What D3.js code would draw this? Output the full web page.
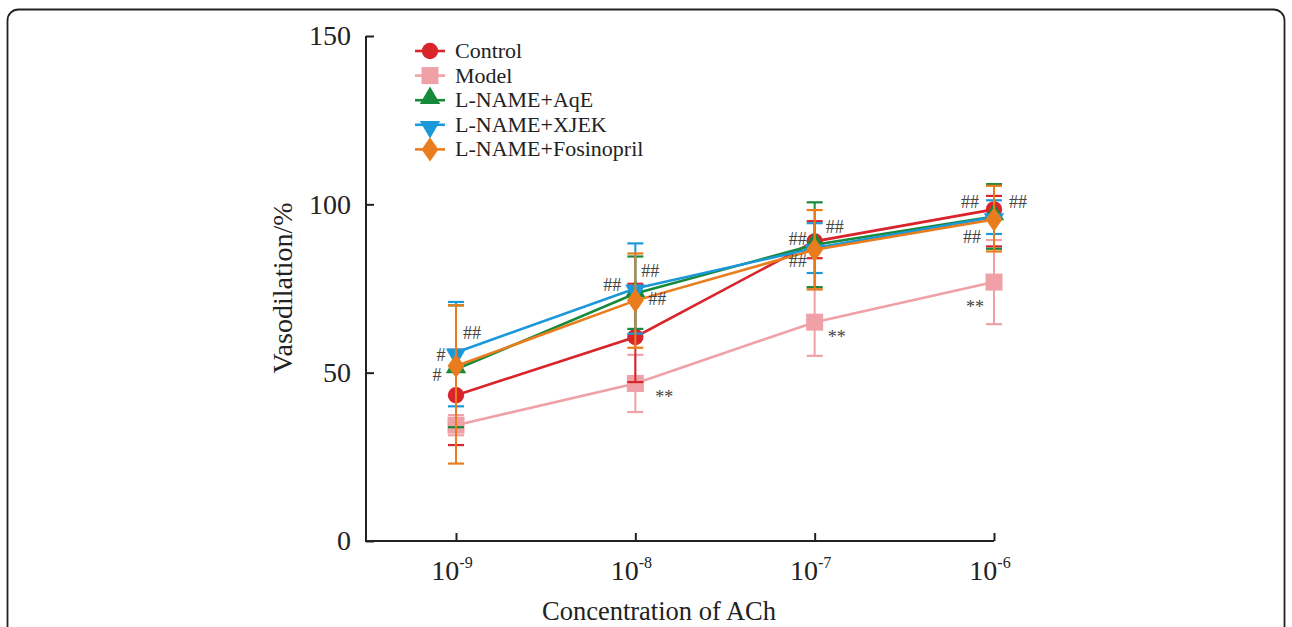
<!DOCTYPE html>
<html>
<head>
<meta charset="utf-8">
<script src="https://cdn.jsdelivr.net/npm/d3@7"></script>
<style>
  body { margin: 0; background: #fff; }
</style>
</head>
<body>
<div id="chart"></div>
<script>
// concentrations of ACh (exponent of 10)
const concentrations = [-9, -8, -7, -6];
const yTicks = [0, 50, 100, 150];

const legendOrder = ['Control', 'Model', 'L-NAME+AqE', 'L-NAME+XJEK', 'L-NAME+Fosinopril'];

// mean values (%)
const controlMean = [43.3, 60.6, 89.0, 98.5];
const modelMean = [34.4, 46.8, 65.0, 76.9];
const aqeMean = [51.0, 73.5, 88.0, 96.4];
const xjekMean = [56.0, 75.0, 87.0, 96.2];
const fosinoprilMean = [52.0, 71.4, 86.5, 95.5];

// error bars: upper / lower extent
const controlErrUp = [13.5, 15.8, 6.0, 4.0];
const controlErrDown = [14.8, 13.4, 5.0, 11.0];
const modelErrUp = [3.0, 8.5, 10.0, 12.5];
const modelErrDown = [3.0, 8.5, 10.0, 12.5];
const aqeErrUp = [19.0, 11.0, 12.6, 9.6];
const aqeErrDown = [17.2, 10.5, 12.6, 9.6];
const xjekErrUp = [15.0, 13.4, 7.4, 5.0];
const xjekErrDown = [16.0, 13.4, 7.4, 5.0];
const fosinoprilErrUp = [18.0, 14.0, 11.8, 10.0];
const fosinoprilErrDown = [29.0, 14.0, 11.8, 9.5];

// significance marks: concentration, value level, text, side offset
const markConc = [-9, -9, -9, -8, -8, -8, -8, -7, -7, -7, -7, -6, -6, -6, -6];
const markValue = [61.7, 55.1, 49.2, 80.3, 75.9, 72.0, 42.7, 93.4, 89.8, 83.3, 60.5, 100.8, 100.8, 90.4, 69.4];
const markText = ['##', '#', '#', '##', '##', '##', '**', '##', '##', '##', '**', '##', '##', '##', '**'];
const markDx = [16, -15, -19, 15, -23, 22, 29, 20, -17, -17, 22, -24, 24, -22, -19];

const series = [
  { name: 'Model', mean: modelMean, up: modelErrUp, down: modelErrDown, color: '#f0a1a8', shape: 'square' },
  { name: 'Control', mean: controlMean, up: controlErrUp, down: controlErrDown, color: '#d8242a', shape: 'circle' },
  { name: 'L-NAME+AqE', mean: aqeMean, up: aqeErrUp, down: aqeErrDown, color: '#17893b', shape: 'triangle' },
  { name: 'L-NAME+XJEK', mean: xjekMean, up: xjekErrUp, down: xjekErrDown, color: '#1b98d8', shape: 'triangleDown' },
  { name: 'L-NAME+Fosinopril', mean: fosinoprilMean, up: fosinoprilErrUp, down: fosinoprilErrDown, color: '#e97d1e', shape: 'diamond' }
];

const serif = '"Liberation Serif", "Times New Roman", serif';
const width = 1292, height = 627;
const svg = d3.select('#chart').append('svg')
  .attr('width', width)
  .attr('height', height)
  .attr('font-family', serif)
  .style('display', 'block');

// rounded frame, bottom edge falls outside the picture
svg.append('rect')
  .attr('x', 7.5).attr('y', 9.5)
  .attr('width', 1277).attr('height', 660)
  .attr('rx', 11)
  .attr('fill', 'none')
  .attr('stroke', '#222')
  .attr('stroke-width', 1.8);

const axisLeftX = 366;
const x = d3.scalePoint().domain(concentrations).range([456, 994]);
const y = d3.scaleLinear().domain([0, 150]).range([541, 36]);

const symbolFor = {
  circle: d3.symbol().type(d3.symbolCircle).size(210),
  square: d3.symbol().type(d3.symbolSquare).size(290),
  triangle: d3.symbol().type(d3.symbolTriangle).size(180),
  triangleDown: d3.symbol().type(d3.symbolTriangle).size(180),
  diamond: d3.symbol().type(d3.symbolDiamond).size(170)
};

function markerTransform(shape, px, py) {
  let t = `translate(${px},${py})`;
  if (shape === 'triangle') t += ' translate(0,-2)';
  if (shape === 'triangleDown') t += ' rotate(180) translate(0,-2)';
  if (shape === 'diamond') t += ' scale(1.2,1)';
  return t;
}

// axes
const yAxis = d3.axisLeft(y).tickValues(yTicks).tickSizeInner(-8).tickSizeOuter(0).tickPadding(15);
const gy = svg.append('g').attr('transform', `translate(${axisLeftX},0)`).call(yAxis);
gy.attr('font-family', serif);
gy.select('.domain').remove();
gy.selectAll('.tick line').attr('stroke', '#222').attr('stroke-width', 2);
gy.selectAll('.tick text')
  .attr('font-size', 28)
  .attr('fill', '#222');
svg.append('line')
  .attr('x1', axisLeftX).attr('x2', axisLeftX)
  .attr('y1', y(150)).attr('y2', y(0))
  .attr('stroke', '#222').attr('stroke-width', 2);

const xAxis = d3.axisBottom(x).tickSizeInner(-8).tickSizeOuter(0).tickFormat(() => '');
const gx = svg.append('g').attr('transform', `translate(0,${y(0)})`).call(xAxis);
gx.select('.domain').remove();
gx.selectAll('.tick line').attr('stroke', '#222').attr('stroke-width', 2);
svg.append('line')
  .attr('x1', axisLeftX - 1).attr('x2', x(-6))
  .attr('y1', y(0)).attr('y2', y(0))
  .attr('stroke', '#222').attr('stroke-width', 2);

const xLabels = svg.append('g').selectAll('text')
  .data(concentrations)
  .join('text')
  .attr('x', d => x(d) - 4)
  .attr('y', 580)
  .attr('text-anchor', 'middle')
  .attr('font-size', 28)
  .attr('fill', '#222');
xLabels.append('tspan').text('10');
xLabels.append('tspan').attr('dy', -12).attr('font-size', 16).text(d => String(d));

svg.append('text')
  .attr('x', 659).attr('y', 620)
  .attr('text-anchor', 'middle')
  .attr('font-size', 26.5)
  .attr('fill', '#222')
  .text('Concentration of ACh');

svg.append('text')
  .attr('transform', 'translate(292,288) rotate(-90)')
  .attr('text-anchor', 'middle')
  .attr('font-size', 28)
  .attr('fill', '#222')
  .text('Vasodilation/%');

// series
const line = d3.line()
  .x((d, i) => x(concentrations[i]))
  .y(d => y(d));

const capHalf = 8;
series.forEach(s => {
  const g = svg.append('g').attr('class', 'series');
  // error bars
  concentrations.forEach((c, i) => {
    const top = y(s.mean[i] + s.up[i]);
    const bottom = y(s.mean[i] - s.down[i]);
    g.append('line')
      .attr('x1', x(c)).attr('x2', x(c))
      .attr('y1', top).attr('y2', bottom)
      .attr('stroke', s.color).attr('stroke-width', 2);
    [top, bottom].forEach(yy => {
      g.append('line')
        .attr('x1', x(c) - capHalf).attr('x2', x(c) + capHalf)
        .attr('y1', yy).attr('y2', yy)
        .attr('stroke', s.color).attr('stroke-width', 2.2);
    });
  });
  g.append('path')
    .attr('d', line(s.mean))
    .attr('fill', 'none')
    .attr('stroke', s.color)
    .attr('stroke-width', 2.6);
  g.selectAll('path.pt')
    .data(s.mean)
    .join('path')
    .attr('class', 'pt')
    .attr('d', symbolFor[s.shape]())
    .attr('transform', (d, i) => markerTransform(s.shape, x(concentrations[i]), y(d)))
    .attr('fill', s.color);
});

// significance marks
svg.append('g').selectAll('text')
  .data(markText)
  .join('text')
  .attr('x', (d, i) => x(markConc[i]) + markDx[i])
  .attr('y', (d, i) => y(markValue[i]) + 6)
  .attr('text-anchor', 'middle')
  .attr('font-size', 18)
  .attr('fill', '#444')
  .text(d => d);

// legend
const legend = svg.append('g').attr('transform', 'translate(415,51)');
legendOrder.forEach((name, i) => {
  const s = series.find(d => d.name === name);
  const row = legend.append('g').attr('transform', `translate(0,${i * 24.6})`);
  row.append('line')
    .attr('x1', 0).attr('x2', 30)
    .attr('stroke', s.color).attr('stroke-width', 2.6);
  row.append('path')
    .attr('d', symbolFor[s.shape]())
    .attr('transform', markerTransform(s.shape, 15, 0))
    .attr('fill', s.color);
  row.append('text')
    .attr('x', 40).attr('y', 7)
    .attr('font-size', 22)
    .attr('fill', '#222')
    .text(name);
});
</script>
</body>
</html>
